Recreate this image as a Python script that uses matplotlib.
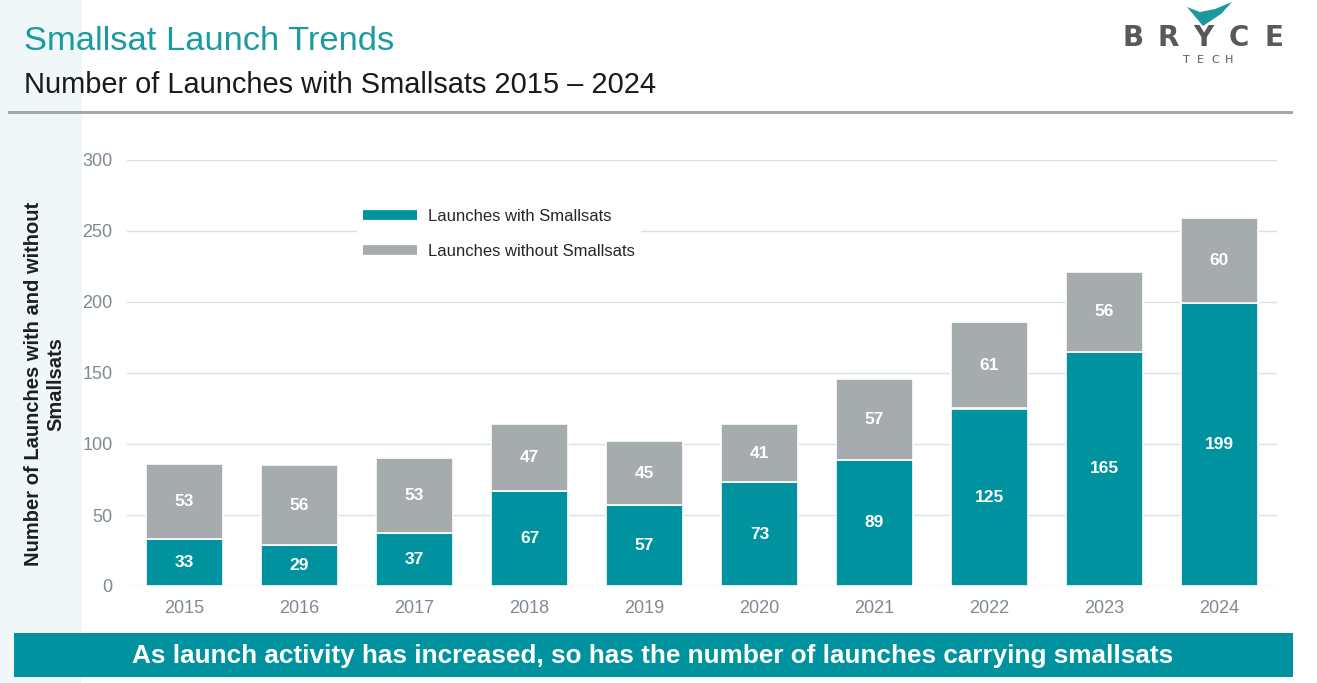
import numpy as np
import matplotlib.pyplot as plt
from matplotlib.patches import Rectangle, Polygon
from matplotlib.lines import Line2D

plt.rcParams['font.family'] = ['Liberation Sans', 'DejaVu Sans']

# data
years = ['2015', '2016', '2017', '2018', '2019', '2020', '2021', '2022', '2023', '2024']
with_smallsats = [33, 29, 37, 67, 57, 73, 89, 125, 165, 199]
without_smallsats = [53, 56, 53, 47, 45, 41, 57, 61, 56, 60]
yticks = [0, 50, 100, 150, 200, 250, 300]

teal = '#00939f'
grey = '#a6abae'
tick_col = '#7f8a94'

W, H = 1317, 683
fig = plt.figure(figsize=(W / 100, H / 100), dpi=100)

# background layer in pixel coords
bg = fig.add_axes([0, 0, 1, 1], zorder=0)
bg.set_xlim(0, W)
bg.set_ylim(H, 0)
bg.axis('off')
bg.add_patch(Rectangle((0, 0), 82, H, color='#f0f7f8', lw=0))
bg.add_patch(Rectangle((8, 110.5), 1285, 3, color='#a6a9ab', lw=0))
bg.add_patch(Rectangle((14, 633), 1279, 44, color='#00939f', lw=0))
bg.add_patch(Polygon([(1187, 7), (1200, 12), (1215, 9), (1232, 2), (1221, 14), (1203, 26)],
                     closed=True, color='#1f979e', lw=0))
for i, ch in enumerate('BRYCE'):
    bg.text(1133.5 + 35 * i, 46, ch, fontsize=20, fontweight='bold', color='#58595b',
            ha='center', va='baseline', family='DejaVu Sans')
for i, ch in enumerate('TECH'):
    bg.text(1186 + 14.5 * i, 63, ch, fontsize=8, color='#58595b',
            ha='center', va='baseline', family='DejaVu Sans')

bg.text(24, 50, 'Smallsat Launch Trends', fontsize=24.8, color='#1a9aa3', va='baseline')
bg.text(24, 93, 'Number of Launches with Smallsats 2015 \u2013 2024', fontsize=20.9,
        color='#1a1a1a', va='baseline')
bg.text(653, 656, 'As launch activity has increased, so has the number of launches carrying smallsats',
        fontsize=18.8, fontweight='bold', color='white', ha='center', va='center')

# chart
ax = fig.add_axes([127 / W, 1 - 586 / H, 1150 / W, 426 / H], zorder=1)
ax.set_facecolor('none')
x = np.arange(len(years))
b1 = ax.bar(x, with_smallsats, width=0.67, color=teal, edgecolor='white', linewidth=1.2, zorder=3)
b2 = ax.bar(x, without_smallsats, width=0.67, bottom=with_smallsats, color=grey,
            edgecolor='white', linewidth=1.2, zorder=3)
ax.bar_label(b1, label_type='center', color='white', fontsize=12.5, fontweight='bold')
ax.bar_label(b2, label_type='center', color='white', fontsize=12.5, fontweight='bold')

ax.set_xlim(-0.5, len(years) - 0.5)
ax.set_ylim(0, 300)
ax.set_yticks(yticks)
ax.set_xticks(x)
ax.set_xticklabels(years)
ax.grid(axis='y', color='#d9e1e5', linewidth=1, zorder=0)
ax.set_axisbelow(True)
for s in ax.spines.values():
    s.set_visible(False)
ax.tick_params(length=0, labelsize=13, labelcolor=tick_col)
ax.tick_params(axis='y', pad=10.5)
ax.tick_params(axis='x', pad=10)
ax.set_ylabel('Number of Launches with and without\nSmallsats', fontsize=14.5, fontweight='bold',
              color='#1f1f1f')
ax.yaxis.set_label_coords(-0.054, 0.474)

handles = [Line2D([], [], color=teal, lw=7, solid_capstyle='butt'),
           Line2D([], [], color=grey, lw=7, solid_capstyle='butt')]
leg = ax.legend(handles, ['Launches with Smallsats', 'Launches without Smallsats'],
                loc='upper left', bbox_to_anchor=(0.1926, 0.921), frameon=True, fontsize=12,
                handlelength=3.2, handletextpad=0.65, labelspacing=1.2, borderpad=0.4)
leg.get_frame().set_facecolor('white')
leg.get_frame().set_edgecolor('none')
leg.get_frame().set_alpha(1)
for t in leg.get_texts():
    t.set_color('#262626')

fig.savefig('out.png', dpi=100)
